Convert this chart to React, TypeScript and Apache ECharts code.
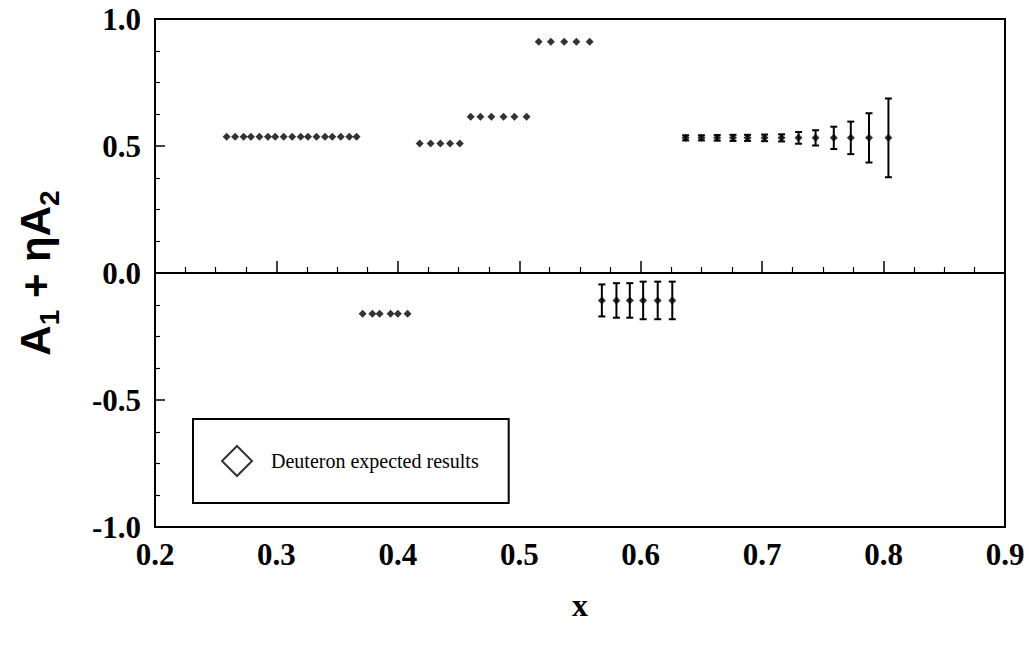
import React, { useEffect, useRef } from "react";
import * as echarts from "echarts";

// Axis ranges and tick labels
const xTickValues = [0.2, 0.3, 0.4, 0.5, 0.6, 0.7, 0.8, 0.9];
const yTickValues = [-1.0, -0.5, 0.0, 0.5, 1.0];

// Expected deuteron asymmetry, grouped by kinematic setting
const set1X = [0.259, 0.266, 0.273, 0.279, 0.286, 0.293, 0.299, 0.306, 0.313, 0.32, 0.326, 0.333, 0.34, 0.346, 0.353, 0.36, 0.366];
const set1Y = 0.536;

const set2X = [0.371, 0.379, 0.385, 0.394, 0.4, 0.408];
const set2Y = -0.16;

const set3X = [0.418, 0.427, 0.435, 0.443, 0.451];
const set3Y = 0.51;

const set4X = [0.46, 0.468, 0.477, 0.487, 0.496, 0.506];
const set4Y = 0.615;

const set5X = [0.516, 0.526, 0.537, 0.547, 0.558];
const set5Y = 0.91;

const set6X = [0.568, 0.58, 0.591, 0.602, 0.614, 0.626];
const set6Y = -0.108;
const set6Err = [0.063, 0.068, 0.068, 0.074, 0.074, 0.074];

const set7X = [0.637, 0.65, 0.663, 0.676, 0.688, 0.702, 0.716, 0.73, 0.744, 0.759, 0.773, 0.788, 0.804];
const set7Y = 0.532;
const set7Err = [0.01, 0.01, 0.011, 0.012, 0.012, 0.013, 0.014, 0.023, 0.03, 0.044, 0.064, 0.097, 0.155];

const seriesName = "Deuteron expected results";
const serif = "'Liberation Serif', 'Times New Roman', serif";
const sans = "'Liberation Sans', Arial, sans-serif";

function App() {
  const ref = useRef<HTMLDivElement>(null);

  useEffect(() => {
    if (!ref.current) return;
    const chart = echarts.init(ref.current, undefined, { renderer: "svg" });

    const flat = (xs: number[], y: number) => xs.map((x) => [x, y]);
    const points = [
      ...flat(set1X, set1Y),
      ...flat(set2X, set2Y),
      ...flat(set3X, set3Y),
      ...flat(set4X, set4Y),
      ...flat(set5X, set5Y),
      ...flat(set6X, set6Y),
      ...flat(set7X, set7Y),
    ];
    const errorData = [
      ...set6X.map((x, i) => [x, set6Y, set6Err[i]]),
      ...set7X.map((x, i) => [x, set7Y, set7Err[i]]),
    ];

    const fmt = (v: number) => v.toFixed(1);

    chart.setOption({
      animation: false,
      backgroundColor: "#fff",
      grid: {
        left: 155,
        right: 24,
        top: 19,
        bottom: 118,
        show: true,
        borderColor: "#000",
        borderWidth: 2,
        backgroundColor: "transparent",
      },
      legend: {
        left: 193,
        top: 419,
        orient: "horizontal",
        data: [
          {
            name: seriesName,
            icon: "path://M10,0L20,10L10,20L0,10Z",
            itemStyle: { color: "#fff", borderColor: "#000", borderWidth: 2 },
          },
        ],
        itemWidth: 30,
        itemHeight: 30,
        padding: [26, 30, 26, 28],
        borderColor: "#000",
        borderWidth: 2,
        borderRadius: 0,
        backgroundColor: "#fff",
        textStyle: {
          fontFamily: serif,
          fontSize: 20,
          color: "#000",
          padding: [0, 0, 0, 14],
        },
      },
      xAxis: {
        type: "value",
        min: xTickValues[0],
        max: xTickValues[xTickValues.length - 1],
        interval: 0.1,
        name: "x",
        nameLocation: "middle",
        nameGap: 62,
        nameTextStyle: { fontFamily: serif, fontSize: 32, fontWeight: "bold", color: "#000" },
        axisLine: { show: true, lineStyle: { color: "#000", width: 2 } },
        axisTick: { show: true, inside: true, length: 12, lineStyle: { color: "#000", width: 1.5 } },
        minorTick: { show: true, splitNumber: 4, length: 6, lineStyle: { color: "#000", width: 1.2 } },
        splitLine: { show: false },
        axisLabel: {
          formatter: fmt,
          fontFamily: serif,
          fontSize: 31,
          fontWeight: "bold",
          color: "#000",
          margin: 12,
        },
      },
      yAxis: {
        type: "value",
        min: yTickValues[0],
        max: yTickValues[yTickValues.length - 1],
        interval: 0.5,
        name: "{a|A}{s|1}{a| + ηA}{s|2}",
        nameLocation: "middle",
        nameRotate: 90,
        nameGap: 92,
        nameTextStyle: {
          rich: {
            a: {
              fontFamily: sans,
              fontWeight: "bold",
              fontSize: 42,
              color: "#000",
              lineHeight: 56,
              verticalAlign: "middle",
            },
            s: {
              fontFamily: sans,
              fontWeight: "bold",
              fontSize: 28,
              color: "#000",
              lineHeight: 56,
              verticalAlign: "bottom",
            },
          },
        },
        axisLine: { show: true, lineStyle: { color: "#000", width: 2 } },
        axisTick: { show: true, inside: true, length: 10, lineStyle: { color: "#000", width: 1.5 } },
        minorTick: { show: true, splitNumber: 4, length: 5, lineStyle: { color: "#000", width: 1.2 } },
        splitLine: { show: false },
        axisLabel: {
          formatter: fmt,
          fontFamily: serif,
          fontSize: 31,
          fontWeight: "bold",
          color: "#000",
          margin: 14,
        },
      },
      series: [
        {
          name: seriesName,
          type: "scatter",
          symbol: "diamond",
          symbolSize: 8,
          itemStyle: { color: "#000" },
          data: points,
          markLine: {
            silent: true,
            symbol: "none",
            label: { show: false },
            lineStyle: { color: "#000", width: 1.5, type: "solid" },
            data: [{ yAxis: 0 }],
          },
          z: 3,
        },
        {
          name: "errors",
          type: "custom",
          data: errorData,
          encode: { x: 0, y: 1 },
          renderItem: (_params: any, api: any) => {
            const x = api.value(0);
            const y = api.value(1);
            const e = api.value(2);
            const top = api.coord([x, y + e]);
            const bot = api.coord([x, y - e]);
            const cap = 3.5;
            const style = { stroke: "#000", lineWidth: 2 };
            return {
              type: "group",
              children: [
                { type: "line", shape: { x1: top[0], y1: top[1], x2: bot[0], y2: bot[1] }, style },
                { type: "line", shape: { x1: top[0] - cap, y1: top[1], x2: top[0] + cap, y2: top[1] }, style },
                { type: "line", shape: { x1: bot[0] - cap, y1: bot[1], x2: bot[0] + cap, y2: bot[1] }, style },
              ],
            };
          },
          z: 2,
        },
      ],
    });

    return () => chart.dispose();
  }, []);

  return (
    <div
      ref={ref}
      style={{ position: "absolute", left: 0, top: 0, width: 1029, height: 645 }}
    />
  );
}

export default App;
